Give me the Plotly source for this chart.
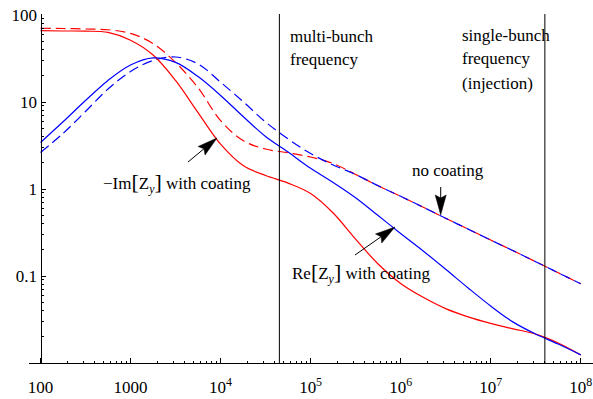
import plotly.graph_objects as go

# ---------------- data ----------------
freq = [1e2, 1.78e2, 3.16e2, 5.62e2, 1e3, 1.78e3, 3.16e3, 5.62e3,
        1e4, 1.78e4, 3.16e4, 5.62e4, 1e5, 1.78e5, 3.16e5, 5.62e5,
        1e6, 1.78e6, 3.16e6, 5.62e6, 1e7, 1.78e7, 3.16e7, 5.62e7, 1e8]

im_coat = [66.0, 65.5, 65.2, 63.0, 51.3, 34.7, 17.7, 7.55, 3.27, 1.86, 1.43, 1.17,
           0.887, 0.530, 0.266, 0.1374, 0.0822, 0.0569, 0.0422, 0.0339, 0.0285,
           0.0247, 0.0215, 0.0170, 0.0124]
im_nocoat = [70.4, 70.0, 69.0, 67.7, 61.5, 47.0, 28.5, 14.6, 6.12, 3.60, 2.88, 2.61,
             2.33, 1.96, 1.47, 1.09, 0.824, 0.618, 0.461, 0.346, 0.259, 0.195,
             0.146, 0.109, 0.0815]
re_coat = [3.42, 5.92, 10.4, 17.7, 26.6, 32.1, 28.5, 19.6, 11.9, 6.81, 4.01, 2.66,
           1.73, 1.19, 0.794, 0.495, 0.308, 0.194, 0.1197, 0.0729, 0.0452, 0.0295,
           0.0215, 0.0165, 0.0124]
re_nocoat = [2.63, 4.35, 7.78, 14.1, 22.4, 30.0, 32.9, 27.4, 16.9, 10.1, 5.89, 3.76,
             2.56, 1.89, 1.47, 1.09, 0.824, 0.618, 0.461, 0.346, 0.259, 0.195,
             0.146, 0.109, 0.0815]

multi_bunch_f = 4.5e4
single_bunch_f = 4.0e7

x_tickvals = [1e2, 1e3, 1e4, 1e5, 1e6, 1e7, 1e8]
x_ticktext = ["100", "1000", "10<sup>4</sup>", "10<sup>5</sup>", "10<sup>6</sup>",
              "10<sup>7</sup>", "10<sup>8</sup>"]
y_tickvals = [0.1, 1, 10, 100]
y_ticktext = ["0.1", "1", "10", "100"]

# ---------------- layout geometry ----------------
W, H = 593, 399
ML, MR, MT, MB = 29, 0, 14, 36
PW, PH = W - ML - MR, H - MT - MB
FONT = "Liberation Serif, Times New Roman, serif"


def pp(px, py):
    return (px - ML) / PW, 1 - (py - MT) / PH


fig = go.Figure()

LW = 1.2
fig.add_trace(go.Scatter(x=freq, y=im_nocoat, mode="lines",
                         line=dict(color="#ff0000", width=LW, dash="10px,5px", shape="spline"),
                         showlegend=False))
fig.add_trace(go.Scatter(x=freq, y=re_nocoat, mode="lines",
                         line=dict(color="#0000ff", width=LW, dash="10px,5px", shape="spline"),
                         showlegend=False))
fig.add_trace(go.Scatter(x=freq, y=im_coat, mode="lines",
                         line=dict(color="#ff0000", width=LW, shape="spline"),
                         showlegend=False))
fig.add_trace(go.Scatter(x=freq, y=re_coat, mode="lines",
                         line=dict(color="#0000ff", width=LW, shape="spline"),
                         showlegend=False))

ytop = 10 ** 2.0115
for f in (multi_bunch_f, single_bunch_f):
    fig.add_trace(go.Scatter(x=[f, f], y=[0.01, ytop], mode="lines",
                             line=dict(color="black", width=1), showlegend=False,
                             hoverinfo="skip"))

# minor tick positions
x_minor = [m * 10 ** e for e in range(2, 8) for m in range(2, 10)]
y_minor = [m * 10 ** e for e in range(-2, 2) for m in range(2, 10)]

fig.update_xaxes(type="log", range=[1.8723, 8.1366], showline=True, linecolor="black",
                 linewidth=1, ticks="inside", ticklen=5, tickcolor="black",
                 tickvals=x_tickvals, ticktext=x_ticktext, showgrid=False, zeroline=False,
                 tickfont=dict(family=FONT, size=17, color="black"),
                 ticklabelstandoff=9,
                 minor=dict(ticks="inside", ticklen=2.5, tickcolor="black",
                            tickvals=x_minor, showgrid=False))
fig.update_yaxes(type="log", range=[-2, 2.0115], anchor="free", position=(40.5 - ML) / PW,
                 showline=True, linecolor="black", linewidth=1, ticks="inside", ticklen=4,
                 tickcolor="black", tickvals=y_tickvals, ticktext=y_ticktext,
                 showgrid=False, zeroline=False,
                 tickfont=dict(family=FONT, size=17, color="black"),
                 ticklabelstandoff=0,
                 minor=dict(ticks="inside", ticklen=2.5, tickcolor="black",
                            tickvals=y_minor, showgrid=False))

annotations = []


def text(px, py, s):
    x, y = pp(px, py)
    annotations.append(dict(x=x, y=y, xref="paper", yref="paper", text=s, showarrow=False,
                            xanchor="left", yanchor="middle",
                            font=dict(family=FONT, size=17, color="black")))


LB = '<span style="font-size:22px">[</span>'
RB = '<span style="font-size:22px">]</span>'
text(288, 36, "multi-bunch")
text(288, 60, "frequency")
text(460, 35, "single-bunch")
text(460, 59, "frequency")
text(460, 83, "(injection)")
text(410, 170, "no coating")
text(101, 183, "\u2212Im" + LB + "Z<sub><i>y</i></sub>" + RB + " with coating")
text(290, 272, "Re" + LB + "Z<sub><i>y</i></sub>" + RB + " with coating")

shapes = []


def arrow(tail, tip, hl=20, hw=11, notch=3):
    import math
    dx, dy = tip[0] - tail[0], tip[1] - tail[1]
    L = math.hypot(dx, dy)
    ux, uy = dx / L, dy / L
    nx, ny = -uy, ux
    bx, by = tip[0] - ux * hl, tip[1] - uy * hl
    kx, ky = tip[0] - ux * (hl - notch), tip[1] - uy * (hl - notch)
    p0 = pp(*tail)
    pk = pp(kx, ky)
    shapes.append(dict(type="line", xref="paper", yref="paper", x0=p0[0], y0=p0[1],
                       x1=pk[0], y1=pk[1], line=dict(color="black", width=1)))
    pts = [tip, (bx + nx * hw / 2, by + ny * hw / 2), (kx, ky),
           (bx - nx * hw / 2, by - ny * hw / 2)]
    pts = [pp(*p) for p in pts]
    path = "M " + " L ".join(f"{a:.5f},{b:.5f}" for a, b in pts) + " Z"
    shapes.append(dict(type="path", xref="paper", yref="paper", path=path,
                       fillcolor="black", line=dict(color="black", width=0.5)))


arrow((188, 162), (217, 138))
arrow((355, 255), (395, 227))
arrow((440.7, 187), (440.7, 215))

fig.update_layout(width=W, height=H, margin=dict(l=ML, r=MR, t=MT, b=MB, autoexpand=False),
                  plot_bgcolor="white", paper_bgcolor="white",
                  annotations=annotations, shapes=shapes, showlegend=False)

fig.write_html("out.html", config={"displayModeBar": False},
               post_script="document.body.style.margin='0';document.body.style.padding='0';")
